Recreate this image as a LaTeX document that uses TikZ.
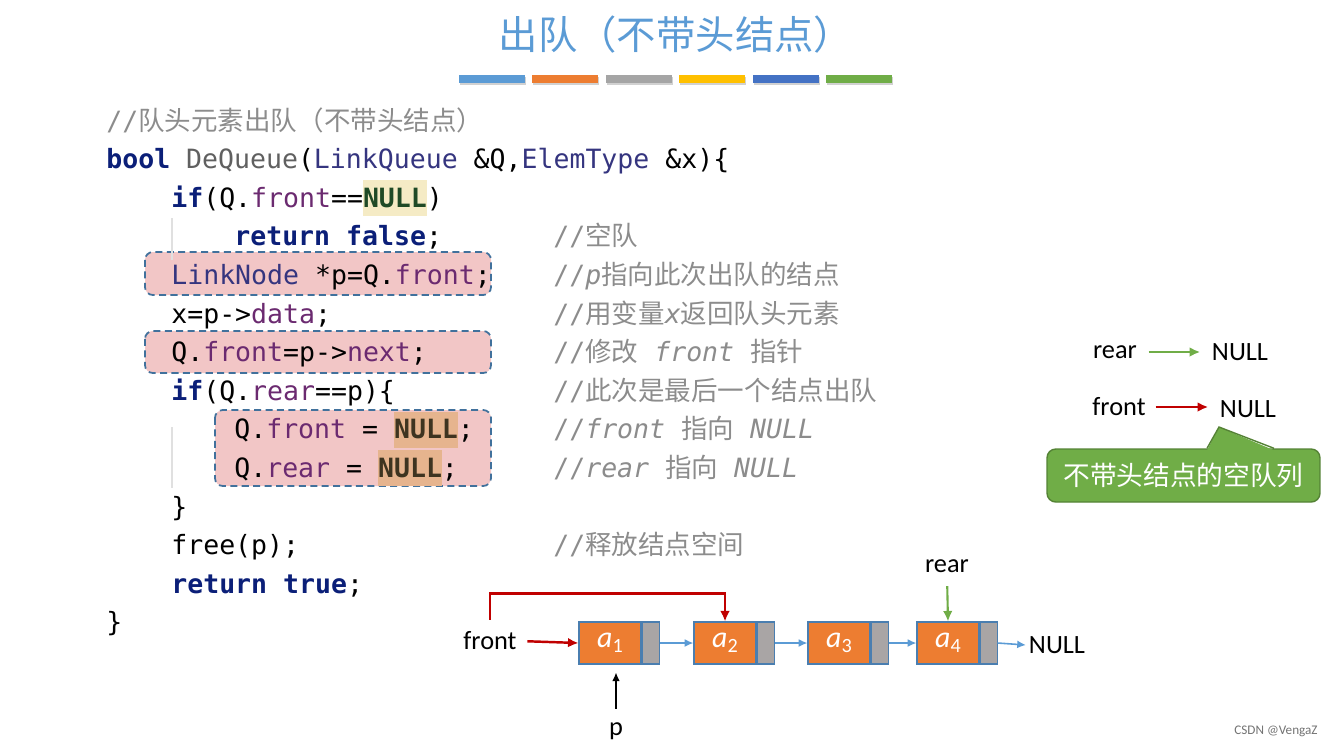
\documentclass[tikz,border=0pt]{standalone}
\usepackage{fontspec}
\setmainfont{Carlito}
\setmonofont{DejaVu Sans Mono}
\newfontfamily\cjk{Noto Sans CJK SC}
\usetikzlibrary{positioning,arrows.meta,calc}

\definecolor{titleblue}{HTML}{5B9BD5}
\definecolor{barblue}{HTML}{5B9BD5}
\definecolor{barorange}{HTML}{ED7D31}
\definecolor{bargray}{HTML}{A5A5A5}
\definecolor{baryellow}{HTML}{FFC000}
\definecolor{bardark}{HTML}{4472C4}
\definecolor{bargreen}{HTML}{70AD47}
\definecolor{kwcol}{HTML}{0B1F78}
\definecolor{fncol}{HTML}{606060}
\definecolor{tycol}{HTML}{35357F}
\definecolor{fdcol}{HTML}{6B2A70}
\definecolor{nulcol}{HTML}{1F4A26}
\definecolor{nulbox}{HTML}{3E3420}
\definecolor{cmtgray}{HTML}{8C8C8C}
\definecolor{hlyellow}{HTML}{F5EBC5}
\definecolor{hlorange}{HTML}{E6B48E}
\definecolor{boxpink}{HTML}{F2C6C6}
\definecolor{boxblue}{HTML}{41719C}
\definecolor{elemorange}{HTML}{ED7D31}
\definecolor{nextgray}{HTML}{A9A5A5}
\definecolor{nodeborder}{HTML}{4A7EB0}
\definecolor{linkblue}{HTML}{5B9BD5}
\definecolor{frontred}{HTML}{C00000}
\definecolor{reargreen}{HTML}{70AD47}
\definecolor{calloutgreen}{HTML}{70AD47}
\definecolor{calloutedge}{HTML}{548235}

\newcommand\codefont{\ttfamily\fontsize{15.1}{17.5}\selectfont}
\newcommand\kwd[1]{{\bfseries\color{kwcol}#1}}
\newcommand\typ[1]{{\color{tycol}#1}}
\newcommand\fld[1]{{\color{fdcol}#1}}
\newcommand\nul[1]{{\bfseries\color{nulcol}#1}}
\newcommand\hil[2]{{\setlength\fboxsep{0pt}\colorbox{#1}{\rule[-0.34em]{0pt}{1.36em}#2}}}
\newcommand\zh[1]{{\cjk #1}}
\newcommand\ai[1]{{\itshape a}\raisebox{-0.35ex}{\fontsize{11.5}{12}\selectfont #1}}

\tikzset{
  codeline/.style={anchor=base west, inner sep=0pt, font=\codefont},
  comment/.style={codeline, text=cmtgray},
  hlframe/.style={fill=boxpink, draw=boxblue, dash pattern=on 4pt off 2.5pt, line width=1pt, rounded corners=4.5pt},
  guide/.style={draw=black!12, line width=0.6pt},
  lbl/.style={font=\fontsize{15}{18}\selectfont, inner sep=1.5pt},
  elem/.style={draw=nodeborder, fill=elemorange, line width=0.6pt, minimum width=1.24cm, minimum height=0.84cm, inner sep=0pt, text=white, font=\fontsize{17}{20}\selectfont},
  nxt/.style={draw=nodeborder, fill=nextgray, line width=0.6pt, minimum width=0.34cm, minimum height=0.84cm, inner sep=0pt},
  link/.style={draw=linkblue, line width=0.9pt, -{Latex[length=5pt,width=4.5pt]}},
  frontarr/.style={draw=frontred, line width=1.4pt, -{Latex[length=6pt,width=5.5pt]}},
  reararr/.style={draw=reargreen, line width=1.2pt, -{Latex[length=6pt,width=5.5pt]}},
  parr/.style={draw=black, line width=0.9pt, -{Latex[length=5pt,width=4.5pt]}},
  callout/.style={fill=calloutgreen, draw=calloutedge, line width=0.8pt, rounded corners=5pt, minimum width=5.46cm, minimum height=1.06cm, text=white, font=\cjk\fontsize{15.2}{18}\selectfont}
}

\begin{document}
\begin{tikzpicture}[x=0.02cm, y=-0.02cm]
  \useasboundingbox (0,0) rectangle (1338,748);

  % Title and colour bars
  \node[font=\cjk\fontsize{22.4}{27}\selectfont, text=titleblue] (title) at (676,35) {出队（不带头结点）};
  \foreach \c [count=\i from 0] in {barblue,barorange,bargray,baryellow,bardark,bargreen}{
    \fill[black!18] ({459+\i*73.4+1},77) rectangle ++(66,8);
    \fill[\c] ({459+\i*73.4},75) rectangle ++(66,8);
  }

  % Draw the highlighted boxes behind the code
  \draw[hlframe] (145,252) rectangle (491,295);
  \draw[hlframe] (145,331) rectangle (491,373);
  \draw[hlframe] (215,410) rectangle (491,486);

  % Indent guides
  \draw[guide] (172,218) -- (172,260);
  \draw[guide] (172,427) -- (172,488);

  % Code
  \node[comment] (l1) at (106,130) {//\zh{队头元素出队（不带头结点）}};
  \node[codeline] (l2) at (106,168.6) {\kwd{bool} {\color{fncol}DeQueue}(\typ{LinkQueue} \&Q,\typ{ElemType} \&x)\{};
  \node[codeline] (l3) at (171,207.2) {\kwd{if}(Q.\fld{front}==\hil{hlyellow}{\nul{NULL}})};
  \node[codeline] (l4) at (234,245.8) {\kwd{return} \kwd{false};};
  \node[codeline] (l5) at (171,284.4) {\typ{LinkNode} *p=Q.\fld{front};};
  \node[codeline] (l6) at (171,323) {x=p->\fld{data};};
  \node[codeline] (l7) at (171,361.6) {Q.\fld{front}=p->\fld{next};};
  \node[codeline] (l8) at (171,400.2) {\kwd{if}(Q.\fld{rear}==p)\{};
  \node[codeline] (l9) at (234,438.8) {Q.\fld{front} = \hil{hlorange}{{\bfseries\color{nulbox}NULL}};};
  \node[codeline] (l10) at (234,477.4) {Q.\fld{rear} = \hil{hlorange}{{\bfseries\color{nulbox}NULL}};};
  \node[codeline] (l11) at (171,516) {\}};
  \node[codeline] (l12) at (171,554.6) {free(p);};
  \node[codeline] (l13) at (171,593.2) {\kwd{return} \kwd{true};};
  \node[codeline] (l14) at (106,631.8) {\}};

  % Comments
  \node[comment] (c4) at (553,245.8) {//\zh{空队}};
  \node[comment] (c5) at (553,284.4) {//\textit{p}\zh{指向此次出队的结点}};
  \node[comment] (c6) at (553,323) {//\zh{用变量}\textit{x}\zh{返回队头元素}};
  \node[comment] (c7) at (553,361.6) {//\zh{修改} \textit{front} \zh{指针}};
  \node[comment] (c8) at (553,400.2) {//\zh{此次是最后一个结点出队}};
  \node[comment] (c9) at (553,438.8) {//\textit{front} \zh{指向} \textit{NULL}};
  \node[comment] (c10) at (553,477.4) {//\textit{rear} \zh{指向} \textit{NULL}};
  \node[comment] (c12) at (553,554.6) {//\zh{释放结点空间}};

  % Empty queue on the right
  \node[lbl] (rear2) at (1115,352) {rear};
  \node[lbl] (nullr) at (1240,352) {NULL};
  \node[lbl] (front2) at (1119,407) {front};
  \node[lbl] (nullf) at (1248,409) {NULL};
  \draw[reararr, shorten <=5pt, shorten >=5pt] (rear2.east) -- (nullr.west);
  \draw[frontarr, shorten <=4pt, shorten >=5pt] (front2.east) -- (front2.east -| nullf.west);

  % Callout
  \node[callout] (cap) at (1183.5,475.5) {不带头结点的空队列};
  \coordinate (tip) at (1219,427);
  \fill[calloutgreen] ($(cap.north)+(23.5,2)$) -- (tip) -- ($(cap.north)+(90.5,2)$) -- cycle;
  \draw[calloutedge, line width=0.8pt] ($(cap.north)+(23.5,0)$) -- (tip) -- ($(cap.north)+(90.5,0)$);

  % Linked list
  \node[elem] (a1) at (610,643) {\ai{1}};
  \node[nxt, right=0pt of a1] (n1) {};
  \node[elem] (a2) at (725,643) {\ai{2}};
  \node[nxt, right=0pt of a2] (n2) {};
  \node[elem] (a3) at (839,643) {\ai{3}};
  \node[nxt, right=0pt of a3] (n3) {};
  \node[elem] (a4) at (948,643) {\ai{4}};
  \node[nxt, right=0pt of a4] (n4) {};
  \node[lbl] (nil) at (1057,645) {NULL};

  \draw[link] (n1.east) -- (a2.west);
  \draw[link] (n2.east) -- (a3.west);
  \draw[link] (n3.east) -- (a4.west);
  \draw[link] (n4.east) -- (nil.west);

  % Pointers
  \node[lbl] (fr) at (490,641) {front};
  \node[lbl] (rr) at (947,566) {rear};
  \node[lbl] (p) at (616,731) {p};
  \draw[frontarr, shorten <=4.5pt] (fr.east) -- (a1.west);
  \draw[frontarr] (fr.north) ++(0,-9) |- ($(a2.north)+(0,-28)$) -- (a2.north);
  \draw[reararr, shorten <=6pt] (rr.south) -- (a4.north);
  \draw[parr, shorten <=6pt, shorten >=4.5pt] (p.north) -- (p.north |- a1.south);

  % Watermark
  \node[font=\fontsize{7.5}{9}\selectfont, text=black!55] (wm) at (1276,731) {CSDN @VengaZ};
\end{tikzpicture}
\end{document}
